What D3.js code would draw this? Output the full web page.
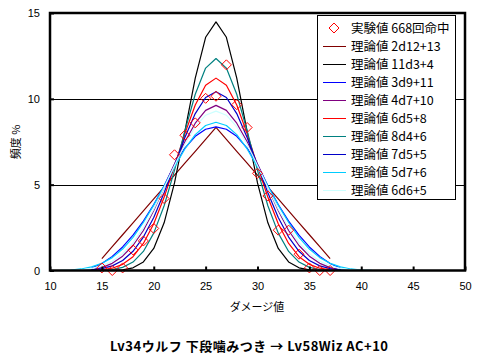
<!DOCTYPE html>
<html><head><meta charset="utf-8">
<script src="https://cdn.jsdelivr.net/npm/d3@7"></script>
<style>
html,body{margin:0;padding:0;background:#fff;}
svg{display:block;}
</style></head>
<body>
<svg id="c" width="479" height="359"></svg>
<script>
// ---- data ----
const expX = [15,16,17,18,19,20,21,22,23,24,25,26,27,28,29,30,31,32,33,34,35,36,37];
const expY = [0.15,0,0.15,1.20,1.72,2.45,4.19,6.74,7.88,8.60,10.03,10.15,11.98,9.66,8.33,5.66,4.34,2.35,2.35,0.95,0.15,0,0];

const seriesNames = ["理論値 2d12+13","理論値 11d3+4","理論値 3d9+11","理論値 4d7+10","理論値 6d5+8","理論値 8d4+6","理論値 7d5+5","理論値 5d7+6","理論値 6d6+5"];
const seriesStart = [15,15,14,14,14,14,12,11,11];
const s2d12 = [0.694,1.389,2.083,2.778,3.472,4.167,4.861,5.556,6.250,6.944,7.639,8.333,7.639,6.944,6.250,5.556,4.861,4.167,3.472,2.778,2.083,1.389,0.694];
const s11d3 = [0.001,0.006,0.037,0.155,0.497,1.285,2.776,5.104,8.103,11.208,13.586,14.481,13.586,11.208,8.103,5.104,2.776,1.285,0.497,0.155,0.037,0.006,0.001];
const s3d9 = [0.137,0.412,0.823,1.372,2.058,2.881,3.841,4.938,6.173,7.133,7.819,8.230,8.368,8.230,7.819,7.133,6.173,4.938,3.841,2.881,2.058,1.372,0.823,0.412,0.137];
const s4d7 = [0.042,0.167,0.416,0.833,1.458,2.332,3.499,4.831,6.206,7.497,8.580,9.329,9.621,9.329,8.580,7.497,6.206,4.831,3.499,2.332,1.458,0.833,0.416,0.167,0.042];
const s6d5 = [0.006,0.038,0.134,0.358,0.806,1.574,2.726,4.262,6.086,7.974,9.638,10.790,11.206,10.790,9.638,7.974,6.086,4.262,2.726,1.574,0.806,0.358,0.134,0.038,0.006];
const s8d4 = [0.002,0.012,0.055,0.183,0.491,1.111,2.179,3.772,5.833,8.130,10.266,11.792,12.347,11.792,10.266,8.130,5.833,3.772,2.179,1.111,0.491,0.183,0.055,0.012,0.002];
const s7d5 = [0.001,0.009,0.036,0.108,0.269,0.582,1.120,1.946,3.091,4.525,6.138,7.750,9.139,10.080,10.413,10.080,9.139,7.750,6.138,4.525,3.091,1.946,1.120,0.582,0.269,0.108,0.036,0.009,0.001];
const s5d7 = [0.006,0.030,0.089,0.208,0.417,0.750,1.250,1.934,2.797,3.808,4.915,6.039,7.080,7.913,8.449,8.633,8.449,7.913,7.080,6.039,4.915,3.808,2.797,1.934,1.250,0.750,0.417,0.208,0.089,0.030,0.006];
const s6d6 = [0.002,0.013,0.045,0.120,0.270,0.540,0.977,1.620,2.488,3.571,4.816,6.121,7.354,8.372,9.047,9.285,9.047,8.372,7.354,6.121,4.816,3.571,2.488,1.620,0.977,0.540,0.270,0.120,0.045,0.013,0.002];
const seriesValues = [s2d12,s11d3,s3d9,s4d7,s6d5,s8d4,s7d5,s5d7,s6d6];
const seriesColors = ["#800000","#000000","#0000FF","#800080","#FF0000","#008080","#0000C8","#00CCFF","#CCFFFF"];

const xTicks = [10,15,20,25,30,35,40,45,50];
const yTicks = [0,5,10,15];
const expLabel = "実験値 668回命中";
const xTitle = "ダメージ値";
const yTitle = "頻度 %";
const chartTitle = "Lv34ウルフ 下段噛みつき → Lv58Wiz AC+10";

// ---- drawing ----
const svg = d3.select("#c");
const L = 50, R = 465, T = 13, B = 270.5;
const x = d3.scaleLinear().domain([10,50]).range([L,R]);
const y = d3.scaleLinear().domain([0,15]).range([B,T]);
const jp = "'Noto Sans CJK JP','Noto Sans',sans-serif";
const lat = "'Liberation Sans',Arial,sans-serif";

svg.append("rect").attr("width",479).attr("height",359).attr("fill","#fff");

// gridlines
svg.append("g").selectAll("line").data([5,10]).join("line")
  .attr("x1",L).attr("x2",R)
  .attr("y1",d=>Math.round(y(d))+0.5).attr("y2",d=>Math.round(y(d))+0.5)
  .attr("stroke","#000").attr("stroke-width",1);

// series lines
const line = d3.line().x(d=>x(d[0])).y(d=>y(d[1]));
seriesValues.forEach((vals,i)=>{
  const pts = vals.map((v,j)=>[seriesStart[i]+j, v]);
  svg.append("path").datum(pts).attr("d",line)
    .attr("fill","none").attr("stroke",seriesColors[i]).attr("stroke-width",1.2)
    .attr("stroke-linejoin","round");
});

// markers
const diamond = "M0,-5L5,0L0,5L-5,0Z";
svg.append("g").selectAll("path").data(expX.map((d,i)=>[d,expY[i]])).join("path")
  .attr("d",diamond)
  .attr("transform",d=>`translate(${x(d[0])},${y(d[1])})`)
  .attr("fill","none").attr("stroke","#FF0000").attr("stroke-width",1);

// plot frame
svg.append("rect").attr("x",L).attr("y",T).attr("width",R-L).attr("height",B-T)
  .attr("fill","none").attr("stroke","#000").attr("stroke-width",2.5);

// axes
const xa = svg.append("g").attr("transform",`translate(0,${B})`)
  .call(d3.axisBottom(x).tickValues(xTicks).tickSizeInner(-4).tickSizeOuter(0).tickPadding(12));
xa.select(".domain").remove();
xa.selectAll("line").attr("stroke-width",2);
xa.selectAll("text").attr("font-family",lat).attr("font-size",11).attr("fill","#000");

const ya = svg.append("g").attr("transform",`translate(${L},0)`)
  .call(d3.axisLeft(y).tickValues(yTicks).tickSizeInner(-4).tickSizeOuter(0).tickPadding(10));
ya.select(".domain").remove();
ya.selectAll("line").attr("stroke-width",2);
ya.selectAll("text").attr("font-family",lat).attr("font-size",11).attr("fill","#000");

// axis titles
svg.append("text").attr("x",257).attr("y",311).attr("text-anchor","middle")
  .attr("font-family",jp).attr("font-size",11).text(xTitle);
svg.append("text").attr("transform","translate(20,142) rotate(-90)").attr("text-anchor","middle")
  .attr("font-family",jp).attr("font-size",11).text(yTitle);

// chart title
svg.append("text").attr("x",110).attr("y",351)
  .attr("font-family",jp).attr("font-size",13).attr("font-weight","bold")
  .attr("textLength",278).attr("lengthAdjust","spacing").text(chartTitle);

// legend
const lg = svg.append("g");
lg.append("rect").attr("x",317.5).attr("y",15.5).attr("width",138).attr("height",184)
  .attr("fill","#fff").attr("stroke","#000").attr("stroke-width",1);
const rowY = i => 28 + i*18;
lg.append("path").attr("d",diamond).attr("transform",`translate(334,${rowY(0)})`)
  .attr("fill","none").attr("stroke","#FF0000");
lg.append("text").attr("x",351).attr("y",rowY(0)+4.5)
  .attr("font-family",jp).attr("font-size",12.5).text(expLabel);
seriesNames.forEach((n,i)=>{
  const yy = rowY(i+1);
  lg.append("line").attr("x1",323).attr("x2",346).attr("y1",yy+0.5).attr("y2",yy+0.5)
    .attr("stroke",seriesColors[i]).attr("stroke-width",1);
  lg.append("text").attr("x",351).attr("y",yy+4.5)
    .attr("font-family",jp).attr("font-size",12.5).text(n);
});
</script>
</body></html>
